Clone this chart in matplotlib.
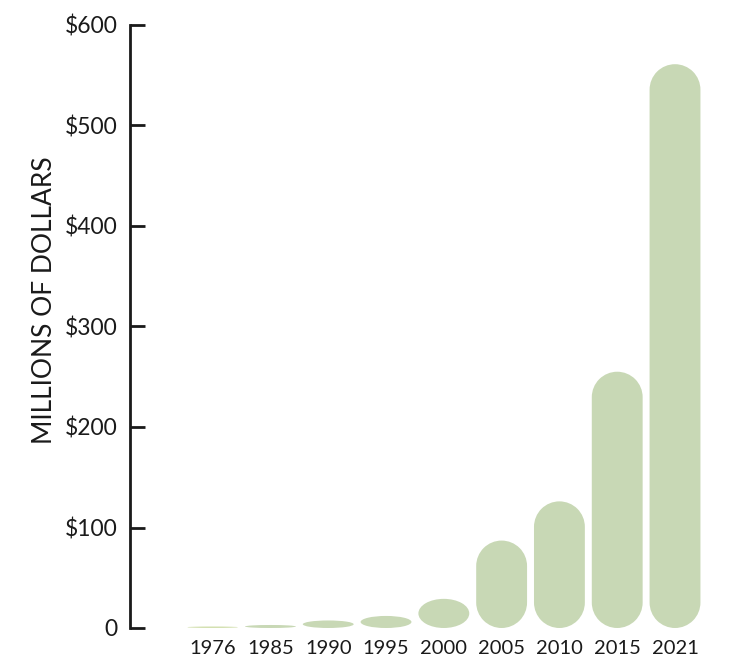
import matplotlib
matplotlib.use("Agg")
import matplotlib.pyplot as plt
from matplotlib.path import Path
from matplotlib.patches import PathPatch
from matplotlib.transforms import Affine2D
import numpy as np

years = ["1976", "1985", "1990", "1995", "2000", "2005", "2010", "2015", "2021"]
values = [1.5, 3, 7.5, 12, 29, 87, 126, 255, 561]
bar_colors = ["#d3e0b0"] + ["#c8d8b5"] * 8
yticks = [0, 100, 200, 300, 400, 500, 600]
ytick_labels = ["0", "$100", "$200", "$300", "$400", "$500", "$600"]

plt.rcParams['font.family'] = ['Lato', 'DejaVu Sans']

W, H, DPI = 732, 659, 100
fig = plt.figure(figsize=(W / DPI, H / DPI), dpi=DPI)
left_px, right_px, bottom_px, top_px = 130, 712, 31, 634
ax = fig.add_axes([left_px / W, bottom_px / H, (right_px - left_px) / W, (top_px - bottom_px) / H])

x = np.arange(len(years))
ax.set_xlim(-1.43, len(years) - 1 + 0.64)
ax.set_ylim(0, 600)

bar_w = 0.88

# pixel scale to keep caps circular
fig.canvas.draw()
p0 = ax.transData.transform((0, 0))
p1 = ax.transData.transform((1, 1))
px_per_x = p1[0] - p0[0]
px_per_y = p1[1] - p0[1]


def stadium(cx, w, h):
    rx = w / 2.0
    ry = min(rx * px_per_x / px_per_y, h / 2.0)
    top = Affine2D().scale(rx, ry).translate(cx, h - ry).transform_path(Path.arc(0, 180))
    bot = Affine2D().scale(rx, ry).translate(cx, ry).transform_path(Path.arc(180, 360))
    verts = np.concatenate([top.vertices, bot.vertices, [[0, 0]]])
    bcodes = bot.codes.copy()
    bcodes[0] = Path.LINETO
    codes = np.concatenate([top.codes, bcodes, [Path.CLOSEPOLY]])
    return Path(verts, codes)


for xi, v, c in zip(x, values, bar_colors):
    ax.add_patch(PathPatch(stadium(xi, bar_w, v), facecolor=c, edgecolor="none"))

text_color = "#1a1a1a"
for s in ["top", "right", "bottom"]:
    ax.spines[s].set_visible(False)
ax.spines["left"].set_linewidth(2.0)
ax.spines["left"].set_color(text_color)

ax.set_yticks(yticks)
ax.set_yticklabels(ytick_labels)
ax.tick_params(axis="y", direction="in", length=11, width=2.0, color=text_color,
               pad=9, labelsize=16.5, labelcolor=text_color)
ax.set_xticks(x)
ax.set_xticklabels(years)
ax.tick_params(axis="x", length=0, pad=9, labelsize=14.5, labelcolor=text_color)

ax.set_ylabel("MILLIONS OF DOLLARS", fontsize=19, color=text_color)
ax.yaxis.set_label_coords((57 - left_px) / (right_px - left_px), (628 - 300) / 603)

fig.savefig("out.png", dpi=DPI)
